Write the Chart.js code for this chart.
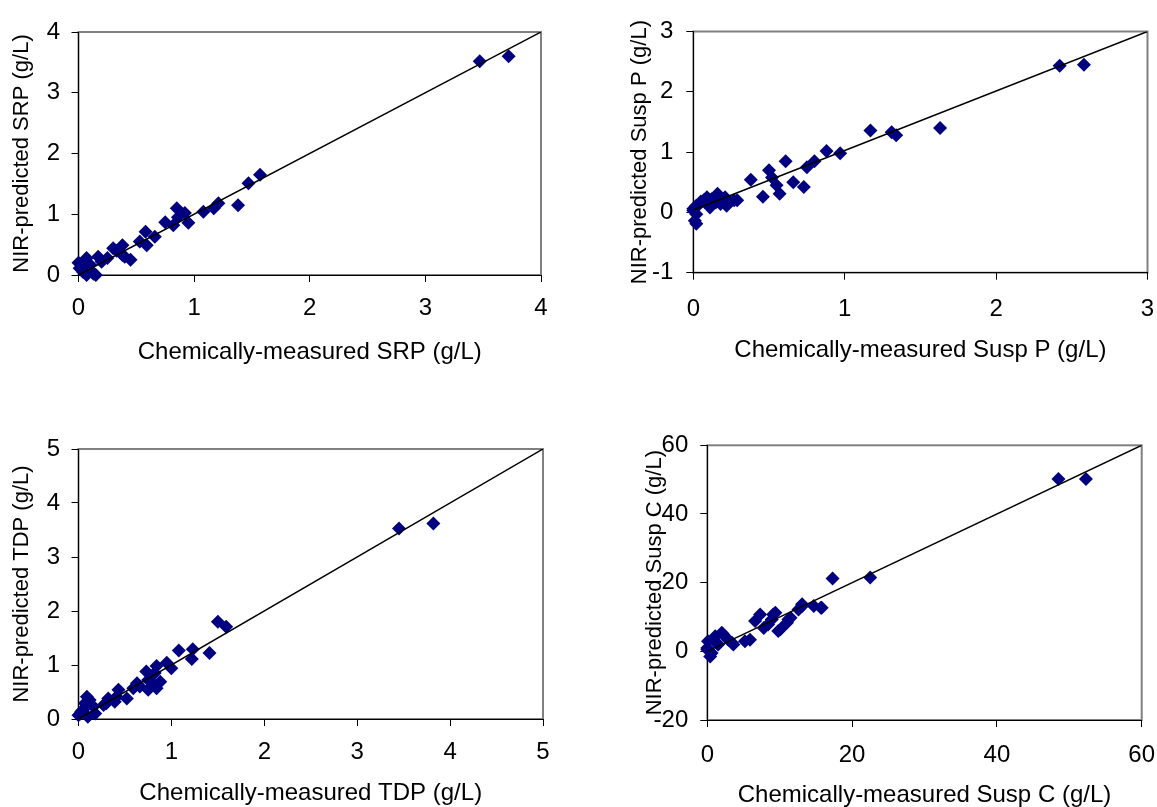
<!DOCTYPE html>
<html>
<head>
<meta charset="utf-8">
<script src="https://cdn.jsdelivr.net/npm/chart.js@4.4.1/dist/chart.umd.min.js"></script>
<style>
  html, body { margin: 0; padding: 0; background: #fff; overflow: hidden; }
  body { width: 1157px; height: 807px; position: relative; }
  canvas { position: absolute; }
</style>
</head>
<body>
<canvas id="srpChart" width="580" height="380" style="left:0px;top:0px"></canvas>
<canvas id="suspPChart" width="557" height="380" style="left:600px;top:0px"></canvas>
<canvas id="tdpChart" width="580" height="420" style="left:0px;top:400px"></canvas>
<canvas id="suspCChart" width="557" height="420" style="left:600px;top:400px"></canvas>
<script>
// ---- data (measured x, predicted y) ----
const srpMeasured = [3.47, 3.72, 1.57, 1.47, 1.38, 1.21, 1.17, 1.08, 0.95, 0.92, 0.85, 0.86, 0.82, 0.75, 0.66, 0.58, 0.59, 0.53, 0.38, 0.30, 0.45, 0.40, 0.38, 0.17, 0.25, 0.06, 0.03, 0.12, 0.15, 0.07, 0.00, 0.10, 0.07, 0.01, 0.13, 0.33, 0.20, 0.04];
const srpPredicted = [3.52, 3.60, 1.65, 1.51, 1.15, 1.18, 1.10, 1.04, 0.86, 1.02, 1.10, 0.95, 0.82, 0.87, 0.63, 0.71, 0.49, 0.55, 0.49, 0.44, 0.25, 0.30, 0.33, 0.30, 0.28, 0.25, 0.12, 0.05, 0.00, 0.00, 0.20, 0.17, 0.28, 0.11, 0.02, 0.40, 0.22, 0.05];
const srpLineX = [0, 4];
const srpLineY = [0, 4];

const suspPMeasured = [2.42, 2.58, 1.63, 1.17, 1.34, 1.31, 0.97, 0.88, 0.80, 0.75, 0.73, 0.66, 0.61, 0.57, 0.55, 0.50, 0.52, 0.46, 0.38, 0.27, 0.22, 0.21, 0.16, 0.15, 0.09, 0.07, 0.02, 0.00, 0.01, 0.00, 0.02, 0.04, 0.18, 0.29, 0.02, 0.11, 0.12, 0.05];
const suspPPredicted = [2.43, 2.45, 1.40, 1.36, 1.28, 1.33, 0.98, 1.02, 0.85, 0.75, 0.42, 0.50, 0.85, 0.31, 0.45, 0.70, 0.58, 0.26, 0.54, 0.20, 0.11, 0.25, 0.31, 0.17, 0.25, 0.20, 0.11, 0.03, -0.14, 0.06, -0.19, 0.14, 0.14, 0.20, -0.03, 0.08, 0.22, 0.18];
const suspPLineX = [0, 3];
const suspPLineY = [0.04, 3];

const tdpMeasured = [3.45, 3.82, 1.50, 1.59, 1.41, 1.23, 1.22, 1.08, 1.00, 0.95, 0.84, 0.82, 0.73, 0.88, 0.84, 0.75, 0.75, 0.63, 0.59, 0.52, 0.43, 0.39, 0.32, 0.27, 0.12, 0.16, 0.07, 0.03, 0.00, 0.10, 0.18, 0.09, 0.05, 0.41, 0.30, 0.66, 0.80, 0.02];
const tdpPredicted = [3.53, 3.62, 1.80, 1.71, 1.22, 1.29, 1.11, 1.27, 0.94, 1.04, 0.98, 0.85, 0.88, 0.69, 0.57, 0.54, 0.72, 0.66, 0.57, 0.38, 0.54, 0.32, 0.38, 0.26, 0.35, 0.23, 0.29, 0.14, 0.07, 0.04, 0.10, 0.41, 0.17, 0.41, 0.29, 0.60, 0.66, 0.10];
const tdpLineX = [0, 5];
const tdpLineY = [0, 5];

const suspCMeasured = [48.5, 52.3, 17.3, 22.5, 15.7, 14.7, 13.1, 12.6, 11.5, 11.0, 10.1, 9.4, 8.9, 8.4, 7.8, 7.3, 6.6, 5.9, 5.2, 3.6, 2.9, 2.0, 1.1, 0.1, 0.6, 0.0, 1.5, 0.0, 0.4, 1.3, 2.2, 3.4, 9.1, 9.8, 11.2, 13.1, 15.8];
const suspCPredicted = [50.2, 50.2, 21.2, 21.5, 12.7, 13.2, 13.2, 12.2, 9.8, 8.3, 6.4, 11.2, 9.3, 7.8, 6.8, 10.7, 8.8, 3.4, 2.9, 2.0, 3.4, 5.4, 4.4, 2.9, -0.5, 1.0, 2.0, 0.5, -1.5, 2.5, 4.9, 2.5, 10.7, 5.9, 9.3, 13.7, 12.7];
const suspCLineX = [0, 60];
const suspCLineY = [0, 60];

// ---- shared look ----
const FAMILY = "'Liberation Sans', Arial, sans-serif";
const TICK_FONT = { family: FAMILY, size: 24 };
const X_TITLE_FONT = { family: FAMILY, size: 24 };
const Y_TITLE_FONT = { family: FAMILY, size: 22 };
const TICK_LEN = 7;

// grey plot-area frame, drawn before the axes so the black axes sit on top
const plotFrame = {
  id: "plotFrame",
  beforeDraw(chart) {
    const { ctx, chartArea: a } = chart;
    ctx.save();
    ctx.strokeStyle = "#808080";
    ctx.lineWidth = 2;
    ctx.strokeRect(a.left, a.top, a.right - a.left, a.bottom - a.top);
    ctx.restore();
  }
};

function toPoints(xs, ys) {
  return xs.map((x, i) => ({ x: x, y: ys[i] }));
}

function axis(range, title, titleFont, gap, fixSize) {
  return {
    type: "linear",
    min: range[0],
    max: range[1],
    ticks: { stepSize: range[2], color: "#000", font: TICK_FONT, padding: gap - TICK_LEN },
    grid: { drawOnChartArea: false, drawTicks: true, tickLength: TICK_LEN, tickColor: "#000", tickWidth: 1 },
    border: { display: true, color: "#000", width: 1 },
    title: { display: true, text: title, color: "#000", font: titleFont, padding: 0 },
    afterFit: fixSize
  };
}

function makePanel(id, xs, ys, lineX, lineY, xRange, yRange, xTitle, yTitle, g) {
  const canvas = document.getElementById(id);
  const w = canvas.width, h = canvas.height;
  const pad = {
    left: g.yTitleX - Y_TITLE_FONT.size * 0.6,
    top: g.t,
    right: w - g.r,
    bottom: h - g.xTitleY - X_TITLE_FONT.size * 0.6
  };
  const yWidth = g.l - pad.left;
  const xHeight = (h - pad.bottom) - g.b;

  return new Chart(canvas, {
    type: "scatter",
    data: {
      datasets: [
        {
          type: "line",
          data: toPoints(lineX, lineY),
          borderColor: "#000",
          borderWidth: 1.5,
          pointRadius: 0,
          fill: false
        },
        {
          data: toPoints(xs, ys),
          pointStyle: "rectRot",
          pointRadius: 7,
          pointBackgroundColor: "#000080",
          pointBorderWidth: 0,
          clip: false
        }
      ]
    },
    options: {
      responsive: false,
      animation: false,
      layout: { padding: pad },
      plugins: { legend: { display: false }, tooltip: { enabled: false } },
      scales: {
        x: axis(xRange, xTitle, X_TITLE_FONT, g.xGap, s => {
          s.height = xHeight;
          s.paddingLeft = 0;
          s.paddingRight = 0;
        }),
        y: axis(yRange, yTitle, Y_TITLE_FONT, g.yGap, s => {
          s.width = yWidth;
          s.paddingTop = 0;
          s.paddingBottom = 0;
        })
      }
    },
    plugins: [plotFrame]
  });
}

makePanel("srpChart", srpMeasured, srpPredicted, srpLineX, srpLineY,
  [0, 4, 1], [0, 4, 1],
  "Chemically-measured SRP (g/L)", "NIR-predicted SRP (g/L)",
  { l: 78.5, t: 32, r: 541, b: 275, yTitleX: 22, xTitleY: 352, xGap: 18.5, yGap: 18.5 });

makePanel("suspPChart", suspPMeasured, suspPPredicted, suspPLineX, suspPLineY,
  [0, 3, 1], [-1, 3, 1],
  "Chemically-measured Susp P (g/L)", "NIR-predicted Susp P (g/L)",
  { l: 93.3, t: 31.5, r: 547.5, b: 272.7, yTitleX: 40, xTitleY: 350, xGap: 22, yGap: 20 });

makePanel("tdpChart", tdpMeasured, tdpPredicted, tdpLineX, tdpLineY,
  [0, 5, 1], [0, 5, 1],
  "Chemically-measured TDP (g/L)", "NIR-predicted TDP (g/L)",
  { l: 78.5, t: 49, r: 543, b: 319, yTitleX: 22, xTitleY: 393, xGap: 18.6, yGap: 18.5 });

makePanel("suspCChart", suspCMeasured, suspCPredicted, suspCLineX, suspCLineY,
  [0, 60, 20], [-20, 60, 20],
  "Chemically-measured Susp C (g/L)", "NIR-predicted Susp C (g/L)",
  { l: 107.3, t: 45.3, r: 541.7, b: 320, yTitleX: 55, xTitleY: 395, xGap: 20.6, yGap: 19 });
</script>
</body>
</html>
